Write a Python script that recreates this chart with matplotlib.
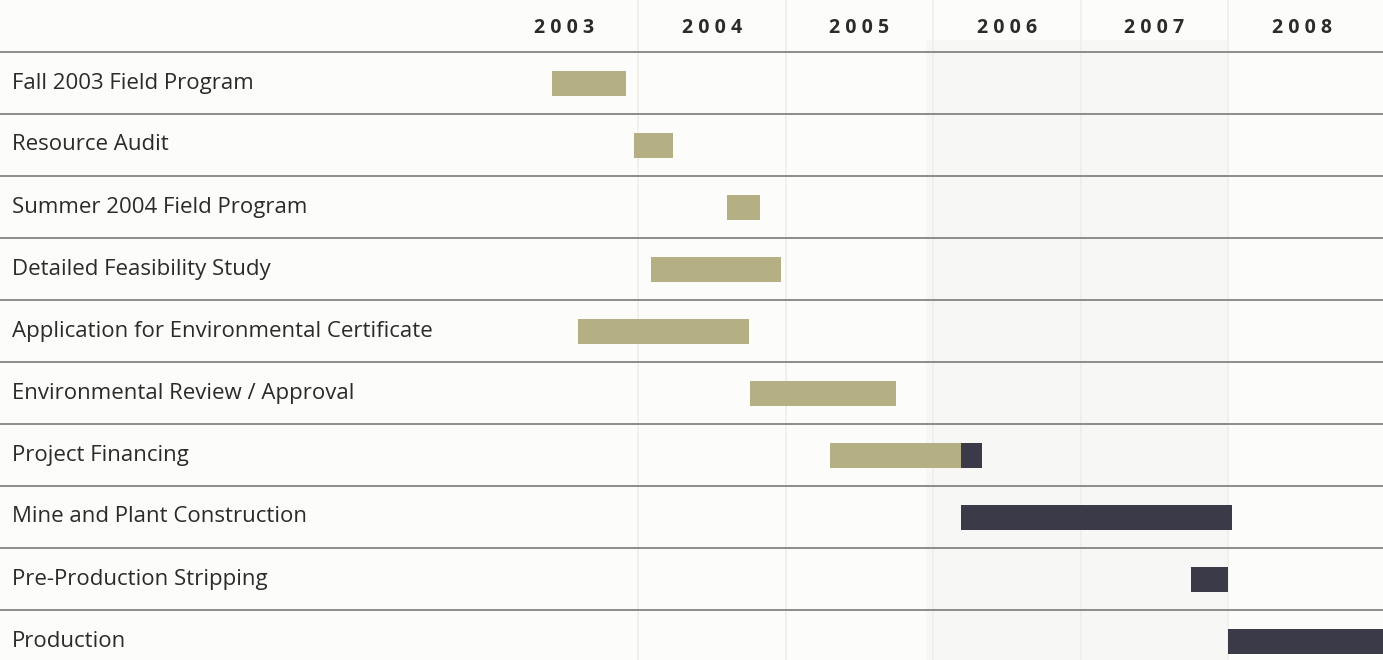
import matplotlib
matplotlib.use('Agg')
import matplotlib.pyplot as plt
import matplotlib.transforms as mtransforms

# project schedule, times in fractional years
tasks = [
    "Fall 2003 Field Program",
    "Resource Audit",
    "Summer 2004 Field Program",
    "Detailed Feasibility Study",
    "Application for Environmental Certificate",
    "Environmental Review / Approval",
    "Project Financing",
    "Mine and Plant Construction",
    "Pre-Production Stripping",
    "Production",
]
# completed / pre-development phase (tan)
tan_start = [2003.42, 2003.97, 2004.60, 2004.09, 2003.59, 2004.76, 2005.30, None, None, None]
tan_end = [2003.92, 2004.24, 2004.83, 2004.97, 2004.75, 2005.75, 2006.19, None, None, None]
# development / production phase (dark)
dark_start = [None, None, None, None, None, None, 2006.19, 2006.19, 2007.75, 2008.00]
dark_end = [None, None, None, None, None, None, 2006.33, 2008.03, 2008.00, 2009.10]

years = [2003, 2004, 2005, 2006, 2007, 2008]

TAN = "#b5af84"
DARK = "#3b3a48"
TEXT = "#2b2b2b"

fig = plt.figure(figsize=(13.83, 6.6), dpi=100)
fig.patch.set_facecolor("#fcfcfa")
ax = fig.add_axes([0, 0, 1, 1])
ax.set_facecolor("#fcfcfa")

# one year = 147.5 px, 2004.0 sits at x = 638 px
x0 = 2004 - 638 / 147.5
ax.set_xlim(x0, x0 + 1383 / 147.5)
# rows are 62 px tall, first separator at y = 52 px
ax.set_ylim((660 - 52) / 62, -52 / 62)
ax.axis("off")

# very faint shading behind the later years
ax.axvspan(2005.95, 2008.0, ymin=0, ymax=1 - 40 / 660, color="#f7f7f5", zorder=0, lw=0)

# faint year boundaries
for yr in years[1:]:
    ax.axvline(yr, color="#efeee8", lw=1.2, zorder=1)

# row separators
for i in range(len(tasks)):
    ax.axhline(i, color="#8c8c8c", lw=1.4, zorder=2)

# year headers, centred in each column
for yr in years:
    ax.text(yr + 0.5, -0.39, " ".join(str(yr)), ha="center", va="center",
            fontsize=14, fontweight="bold", color=TEXT, family="Open Sans")

label_tf = mtransforms.blended_transform_factory(ax.transAxes, ax.transData)
bar_h = 25 / 62
for i, name in enumerate(tasks):
    yc = i + 0.5
    ax.text(12 / 1383, yc, name, transform=label_tf, ha="left", va="center",
            fontsize=16, color=TEXT, family="Open Sans")
    if tan_start[i] is not None:
        ax.barh(yc, tan_end[i] - tan_start[i], left=tan_start[i], height=bar_h,
                color=TAN, zorder=3)
    if dark_start[i] is not None:
        ax.barh(yc, dark_end[i] - dark_start[i], left=dark_start[i], height=bar_h,
                color=DARK, zorder=3)

fig.savefig("out.png", dpi=100, facecolor=fig.get_facecolor())
plt.close(fig)
